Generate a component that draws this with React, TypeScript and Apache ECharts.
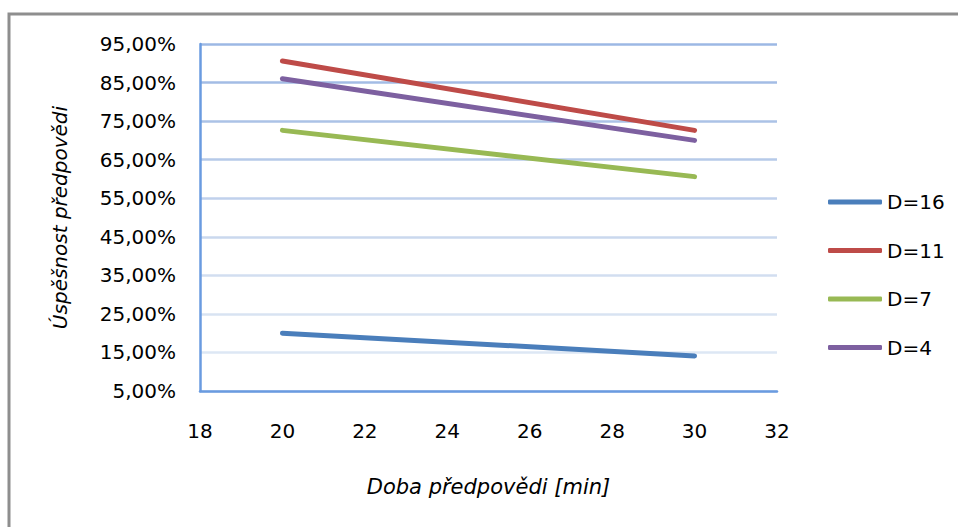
import React, { useEffect, useRef } from "react";
import * as echarts from "echarts";

const xValues = [20, 30];
const seriesNames = ["D=16", "D=11", "D=7", "D=4"];
const d16 = [20.0, 14.1];
const d11 = [90.6, 72.6];
const d7 = [72.6, 60.6];
const d4 = [86.0, 70.0];
const seriesValues = [d16, d11, d7, d4];
const colors = ["#4a7ebb", "#be4b48", "#98b954", "#7d60a0"];

// y axis runs 5% .. 95% in steps of 10; ticks are counted from 0 after an offset
const Y_MIN = 5;
const Y_MAX = 95;
const Y_STEP = 10;
const X_MIN = 18;
const X_MAX = 32;
const X_STEP = 2;

const FONT = "DejaVu Sans";

export default function App() {
  const ref = useRef<HTMLDivElement>(null);
  useEffect(() => {
    if (!ref.current) return;
    const chart = echarts.init(ref.current, null, { renderer: "svg" });
    const gridColors = [
      "#dce6f2",
      "#dde7f4",
      "#d8e3f2",
      "#d2def0",
      "#cad8ee",
      "#c0d1ec",
      "#b6cae9",
      "#abc2e6",
      "#a3bce5",
      "#9cb8e4",
    ];
    chart.setOption({
      animation: false,
      backgroundColor: "#ffffff",
      textStyle: { fontFamily: FONT },
      graphic: [
        {
          type: "rect",
          shape: { x: 9, y: 14, width: 1000, height: 600 },
          style: { fill: "none", stroke: "#8e8e8e", lineWidth: 3 },
          silent: true,
        },
      ],
      grid: { left: 200, top: 44, width: 577, height: 347 },
      legend: {
        orient: "vertical",
        left: 823,
        top: 186,
        icon: "roundRect",
        itemWidth: 54,
        itemHeight: 5,
        itemGap: 26.5,
        textStyle: { fontFamily: FONT, fontSize: 20, color: "#000", lineHeight: 22 },
        data: seriesNames,
      },
      xAxis: {
        type: "value",
        min: X_MIN,
        max: X_MAX,
        interval: X_STEP,
        name: "Doba předpovědi [min]",
        nameLocation: "middle",
        nameGap: 85,
        nameTextStyle: { fontFamily: FONT, fontSize: 21, fontStyle: "italic", color: "#000" },
        axisLine: { show: true, onZero: false, lineStyle: { color: "#6a9be0", width: 2.5 } },
        axisTick: { show: false },
        axisLabel: { fontFamily: FONT, fontSize: 20, color: "#000", margin: 30 },
        splitLine: { show: false },
      },
      yAxis: {
        type: "value",
        min: 0,
        max: Y_MAX - Y_MIN,
        interval: Y_STEP,
        name: "Úspěšnost předpovědi",
        nameLocation: "middle",
        nameGap: 130,
        nameTextStyle: { fontFamily: FONT, fontSize: 20, fontStyle: "italic", color: "#000" },
        axisLine: { show: true, lineStyle: { color: "#6a9be0", width: 2.5 } },
        axisTick: { show: false },
        axisLabel: {
          fontFamily: FONT,
          fontSize: 20,
          color: "#000",
          margin: 24,
          formatter: (v: number) => (v + Y_MIN).toFixed(2).replace(".", ",") + "%",
        },
        splitLine: { show: true, lineStyle: { color: gridColors, width: 2.5 } },
      },
      series: seriesNames.map((name, i) => ({
        name,
        type: "line",
        data: xValues.map((x, j) => [x, seriesValues[i][j] - Y_MIN]),
        showSymbol: false,
        symbol: "none",
        color: colors[i],
        lineStyle: { color: colors[i], width: 5, cap: "round", join: "round" },
        z: 3 + (seriesNames.length - i),
      })),
    });
    return () => chart.dispose();
  }, []);
  return (
    <div
      ref={ref}
      style={{ position: "absolute", left: 0, top: 0, width: 958, height: 527 }}
    />
  );
}
